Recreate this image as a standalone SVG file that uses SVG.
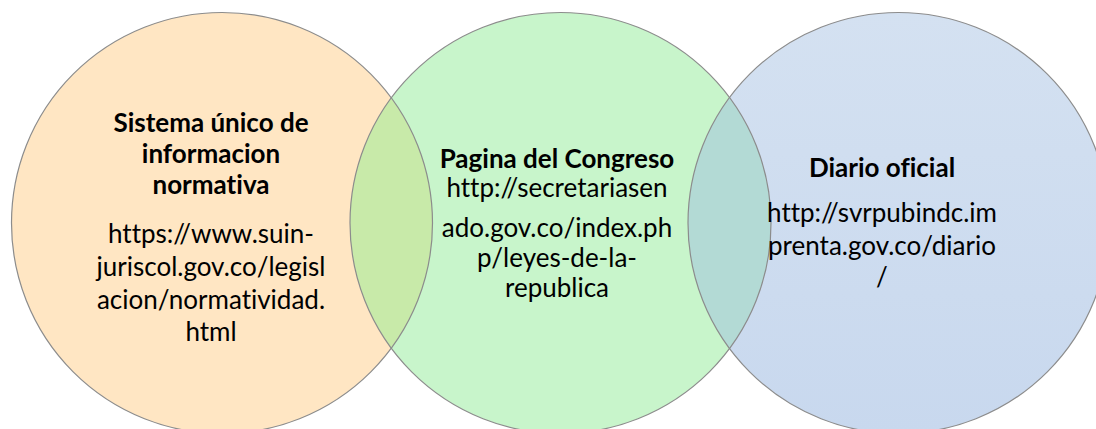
<svg xmlns="http://www.w3.org/2000/svg" width="1096" height="429" viewBox="0 0 1096 429">
<style>
.c{stroke:#8c8c8c;stroke-width:1.2}
.h{font-family:Lato,"Open Sans","Liberation Sans",sans-serif;font-weight:bold;font-size:26px;fill:#000;text-anchor:middle;font-variant-ligatures:none}
.t{font-family:Lato,"Open Sans","Liberation Sans",sans-serif;font-size:26px;fill:#000;text-anchor:middle;font-variant-ligatures:none}
</style>
<defs>
<linearGradient id="gb" x1="0" y1="0" x2="0" y2="1"><stop offset="0" stop-color="#D4E1F1"/><stop offset="1" stop-color="#C8D8EE"/></linearGradient>
<clipPath id="cpO"><circle cx="222" cy="223" r="210.5"/></clipPath>
<clipPath id="cpG"><circle cx="560.5" cy="223" r="210.5"/></clipPath>
</defs>
<rect width="1096" height="429" fill="#fff"/>
<g id="node-suin">
<circle cx="222" cy="223" r="210.5" fill="#FFE6C3"/>
</g>
<g id="node-congreso">
<circle cx="560.5" cy="223" r="210.5" fill="#C8F5CB"/>
</g>
<g id="node-diario">
<circle cx="898.5" cy="223" r="210.5" fill="url(#gb)"/>
</g>
<g id="overlaps">
<circle cx="560.5" cy="223" r="210.5" fill="#C8EAA9" clip-path="url(#cpO)"/>
<circle cx="898.5" cy="223" r="210.5" fill="#B3DAD5" clip-path="url(#cpG)"/>
</g>
<g id="outlines" fill="none">
<circle class="c" cx="222" cy="223" r="210.5"/>
<circle class="c" cx="560.5" cy="223" r="210.5"/>
<circle class="c" cx="898.5" cy="223" r="210.5"/>
</g>
<g id="labels">
<text class="h" x="211" y="132">Sistema único de</text>
<text class="h" x="211" y="163">informacion</text>
<text class="h" x="211" y="194">normativa</text>
<text class="t" x="211" y="243">https://www.suin-</text>
<text class="t" x="211" y="276">juriscol.gov.co/legisl</text>
<text class="t" x="211" y="309">acion/normatividad.</text>
<text class="t" x="211" y="341">html</text>
<text class="h" x="557" y="168">Pagina del Congreso</text>
<text class="t" x="557" y="197">http://secretariasen</text>
<text class="t" x="557" y="237">ado.gov.co/index.ph</text>
<text class="t" x="557" y="267">p/leyes-de-la-</text>
<text class="t" x="557" y="297">republica</text>
<text class="h" x="882" y="177">Diario oficial</text>
<text class="t" x="882" y="222">http://svrpubindc.im</text>
<text class="t" x="882" y="255">prenta.gov.co/diario</text>
<text class="t" x="882" y="286">/</text>
</g>
</svg>
